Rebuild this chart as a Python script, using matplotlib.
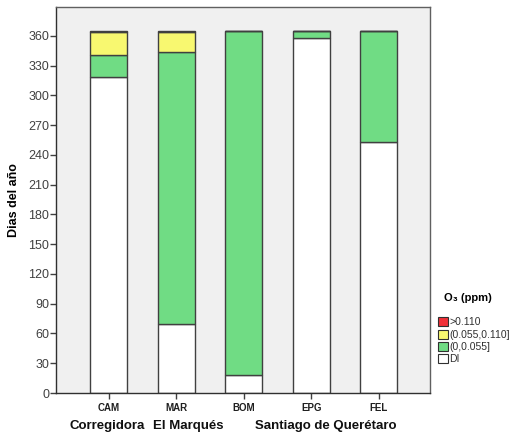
import matplotlib
matplotlib.use("Agg")
import matplotlib.pyplot as plt
import numpy as np
from matplotlib.patches import Patch

plt.rcParams['font.family'] = ['Liberation Sans', 'DejaVu Sans']

stations = ["CAM", "MAR", "BOM", "EPG", "FEL"]
groups = ["Corregidora", "El Marqués", "Santiago de Querétaro"]
di = [318, 70, 18, 358, 253]
green = [23, 274, 347, 7, 112]
yellow = [23, 20, 0, 0, 0]
red = [1, 1, 0, 0, 0]
yticks = list(range(0, 361, 30))
legend_labels = [">0.110", "(0.055,0.110]", "(0,0.055]", "DI"]

colors = {"DI": "#ffffff", "green": "#70dc84", "yellow": "#f8f870", "red": "#f03038"}

fig = plt.figure(figsize=(5.13, 4.37), dpi=100)
ax = fig.add_axes([56/513, 1-393/437, (430-56)/513, (393-7)/437])
ax.set_facecolor("#f0f0f0")
x = np.arange(len(stations))
w = 0.55
bottom = np.zeros(len(stations))
for vals, c in [(di, colors["DI"]), (green, colors["green"]), (yellow, colors["yellow"]), (red, colors["red"])]:
    v = np.array(vals, dtype=float)
    ax.bar(x, v, w, bottom=bottom, color=c, edgecolor="#404040", linewidth=1.0, zorder=2)
    bottom += v

ax.set_xlim(-0.78, 4.76)
ax.set_ylim(0, 389)
ax.set_yticks(yticks)
ax.set_yticklabels([str(t) for t in yticks], fontsize=9, color="#404040")
ax.set_xticks(x)
ax.set_xticklabels(stations, fontsize=7, fontweight="bold", color="#202020")
ax.tick_params(axis='y', length=4, width=1, color="#404040", pad=1)
ax.tick_params(axis='x', length=4, width=1, color="#404040", pad=3)
for s in ["left", "bottom", "top", "right"]:
    ax.spines[s].set_color("#606060")
    ax.spines[s].set_linewidth(1.0)
ax.spines["left"].set_color("#303030")
ax.spines["bottom"].set_color("#303030")

ax.set_ylabel("Dias del año", fontsize=9, fontweight="bold", labelpad=6)

# group labels
gy = 1 - 426/437
fig.text(107/513, gy, groups[0], fontsize=9.5, fontweight="bold", color="#101010", ha="center", va="center")
fig.text(188/513, gy, groups[1], fontsize=9.5, fontweight="bold", color="#101010", ha="center", va="center")
fig.text(326/513, gy, groups[2], fontsize=9.5, fontweight="bold", color="#101010", ha="center", va="center")

# legend
fig.text(444/513, 1-298/437, "O₃ (ppm)", fontsize=8, fontweight="bold", ha="left", va="center")
leg_colors = [colors["red"], colors["yellow"], colors["green"], colors["DI"]]
handles = [Patch(facecolor=c, edgecolor="#303030", linewidth=0.8) for c in leg_colors]
fig.legend(handles, legend_labels, loc="upper left", bbox_to_anchor=(434/513, 1-313/437),
           frameon=False, fontsize=7.5, handlelength=0.95, handleheight=0.95,
           handletextpad=0.15, labelspacing=0.22, borderaxespad=0,
           labelcolor="#303030")

fig.savefig("out.png", dpi=100)
